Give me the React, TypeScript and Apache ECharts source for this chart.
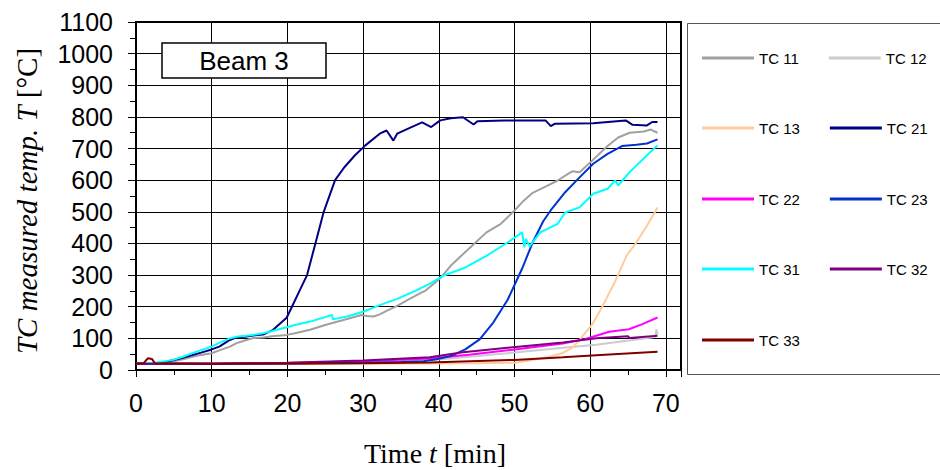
import React, { useEffect, useRef } from 'react';
import * as echarts from 'echarts';

const SANS = '"Liberation Sans", Arial, sans-serif';
const SERIF = '"Liberation Serif", "Times New Roman", serif';

const seriesNames = ['TC 11', 'TC 12', 'TC 13', 'TC 21', 'TC 22', 'TC 23', 'TC 31', 'TC 32', 'TC 33'];
const seriesColors = ['#A0A0A0', '#CCCCCC', '#FFCC99', '#000080', '#FF00FF', '#0033CC', '#00FFFF', '#800080', '#800000'];

const xTicks = [0, 10, 20, 30, 40, 50, 60, 70];
const yTicks = [0, 100, 200, 300, 400, 500, 600, 700, 800, 900, 1000, 1100];

const tc11 = [[0, 20], [3, 20], [4.5, 25], [6.2, 34], [8, 45], [10, 53], [11, 62], [12.4, 74], [13.3, 85], [14.6, 95], [15.5, 101], [16.8, 103], [18, 107], [19.9, 111], [21, 116], [23, 127], [25.1, 143], [27.4, 158], [29.8, 174], [30.5, 171], [31.4, 169], [32.2, 176], [33.1, 187], [34.5, 203], [35.9, 222], [37.2, 238], [38.3, 252], [40.2, 290], [41.6, 330], [43.9, 382], [46.3, 435], [48.2, 462], [50, 504], [51, 530], [52.4, 560], [54.3, 582], [55.7, 599], [57.6, 628], [58.6, 625], [60.4, 665], [62.3, 708], [63.7, 735], [65.2, 750], [67.1, 754], [68, 760], [68.9, 750]];
const tc12 = [[0, 20], [10, 20], [20, 21], [30, 24], [40, 33], [50, 55], [56.4, 70], [60.8, 80], [65.1, 93], [68.6, 104], [68.75, 128], [68.9, 112]];
const tc13 = [[0, 20], [30, 20], [45, 21], [50, 23], [52, 30], [54.2, 40], [56.4, 54], [57.6, 70], [58.6, 95], [60.3, 145], [61.6, 200], [63.4, 285], [64.8, 361], [66.1, 403], [67.5, 456], [68.9, 514]];
const tc21 = [[0, 22], [2, 22], [3, 21], [3.9, 25], [6.2, 39], [8.6, 55], [10, 65], [11, 74], [12.4, 95], [13.3, 103], [14.6, 106], [15.7, 110], [16.8, 112], [18, 125], [19.9, 165], [20.6, 200], [21.6, 250], [22.6, 300], [23.7, 400], [24.8, 500], [26.3, 600], [27.5, 640], [28.9, 678], [30.3, 710], [32.2, 747], [33.1, 757], [34.0, 725], [34.5, 747], [36.9, 773], [37.8, 783], [39, 768], [40.2, 789], [41.6, 796], [43.2, 799], [44.6, 776], [45.1, 786], [48.7, 789], [54.1, 789], [54.8, 771], [55.3, 778], [60.4, 780], [64.7, 789], [65.6, 775], [67.5, 773], [68.2, 784], [68.9, 784]];
const tc22 = [[0, 20], [10, 20], [20, 22], [30, 28], [38.8, 36], [44, 48], [49.8, 64], [56.4, 84], [59.4, 98], [62.5, 121], [65.1, 129], [66.9, 145], [68.9, 166]];
const tc23 = [[0, 20], [10, 20], [20, 21], [30, 23], [35, 25], [38, 28], [39.7, 34], [41.6, 44], [43.5, 65], [45.4, 97], [47.2, 150], [49.1, 222], [51, 320], [52.4, 403], [53.8, 470], [54.8, 505], [56.7, 562], [58.6, 609], [60.4, 652], [62.3, 683], [64.2, 708], [66.1, 712], [67.5, 716], [68.9, 729]];
const tc31 = [[0, 22], [2.5, 23], [4.9, 32], [6.2, 42], [8, 58], [10, 74], [11.2, 88], [12.4, 100], [13.5, 106], [14.6, 108], [16.8, 116], [18, 123], [19.9, 135], [21, 142], [23, 153], [25.9, 174], [26, 160], [28, 170], [30, 184], [32.2, 205], [34.5, 225], [36.9, 250], [38.9, 274], [40.6, 298], [43.5, 324], [46.3, 361], [49.1, 403], [51, 435], [51.3, 388], [51.5, 414], [52, 391], [53.4, 435], [55.7, 462], [56.7, 498], [58.6, 514], [60.4, 557], [62.3, 573], [63.3, 599], [63.7, 583], [65.2, 625], [66.1, 646], [67.5, 679], [68.9, 710]];
const tc32 = [[0, 20], [10, 20], [20, 23], [30, 30], [38.8, 40], [43.2, 56], [49.8, 72], [56.4, 87], [60.8, 100], [65, 107], [65.2, 101], [68.9, 108]];
const tc33 = [[0, 21], [1, 21], [1.3, 30], [1.6, 37], [2.1, 35], [2.5, 21], [10, 20], [20, 20], [30, 21], [38.8, 24], [50, 32], [56.4, 40], [60.8, 47], [68.9, 58]];

const seriesData = [tc11, tc12, tc13, tc21, tc22, tc23, tc31, tc32, tc33];

const legendRows = [['TC 11', 'TC 12'], ['TC 13', 'TC 21'], ['TC 22', 'TC 23'], ['TC 31', 'TC 32'], ['TC 33']];
const legendRowY = [58, 128, 199, 269, 340];

export default function App() {
  const ref = useRef<HTMLDivElement>(null);
  useEffect(() => {
    if (!ref.current) return;
    const chart = echarts.init(ref.current, undefined, { renderer: 'svg' });
    const option = {
      animation: false,
      backgroundColor: '#ffffff',
      grid: { left: 136, top: 22, width: 545, height: 348, show: true, borderColor: '#000', borderWidth: 2, backgroundColor: 'transparent' },
      xAxis: {
        type: 'value',
        min: 0,
        max: 72,
        interval: 10,
        axisLine: { show: true, onZero: false, lineStyle: { color: '#000', width: 2 } },
        axisTick: { show: true, inside: false, length: 7, lineStyle: { color: '#000', width: 1 } },
        minorTick: { show: true, splitNumber: 2, length: 5, lineStyle: { color: '#000', width: 1 } },
        axisLabel: {
          margin: 20,
          fontSize: 25,
          fontFamily: SANS,
          color: '#000',
          formatter: (v: number) => (xTicks.indexOf(v) >= 0 ? String(v) : ''),
        },
        splitLine: { show: true, lineStyle: { color: '#000', width: 1 } },
      },
      yAxis: {
        type: 'value',
        min: 0,
        max: 1100,
        interval: 100,
        axisLine: { show: true, onZero: false, lineStyle: { color: '#000', width: 2 } },
        axisTick: { show: true, inside: false, length: 8, lineStyle: { color: '#000', width: 1 } },
        minorTick: { show: true, splitNumber: 2, length: 6, lineStyle: { color: '#000', width: 1 } },
        axisLabel: {
          margin: 23,
          fontSize: 25,
          fontFamily: SANS,
          color: '#000',
          formatter: (v: number) => (yTicks.indexOf(v) >= 0 ? String(v) : ''),
        },
        splitLine: { show: true, lineStyle: { color: '#000', width: 1 } },
      },
      legend: legendRows.map((row, i) => ({
        data: row,
        orient: 'horizontal',
        left: 702,
        top: legendRowY[i] - 8,
        padding: 0,
        itemWidth: 52,
        itemHeight: 3,
        itemGap: 30,
        icon: 'rect',
        selectedMode: false,
        z: 20,
        textStyle: { fontSize: 15, fontFamily: SANS, color: '#000', lineHeight: 16 },
      })),
      graphic: [
        {
          type: 'rect',
          z: 1,
          shape: { x: 687.5, y: 23.5, width: 300, height: 351 },
          style: { fill: '#fff', stroke: '#555', lineWidth: 1 },
        },
        {
          type: 'rect',
          z: 100,
          shape: { x: 162, y: 43, width: 164, height: 35 },
          style: { fill: '#fff', stroke: '#000', lineWidth: 1.5 },
        },
        {
          type: 'text',
          z: 101,
          x: 244,
          y: 61,
          style: { text: 'Beam 3', font: '26px ' + SANS, fill: '#000', align: 'center', verticalAlign: 'middle' },
        },
        {
          type: 'text',
          z: 101,
          x: 435,
          y: 453,
          style: {
            text: '{n|Time }{i|t}{n| [min]}',
            align: 'center',
            verticalAlign: 'middle',
            fill: '#000',
            rich: {
              n: { fontSize: 28, fontFamily: SERIF, fill: '#000' },
              i: { fontSize: 28, fontFamily: SERIF, fontStyle: 'italic', fill: '#000' },
            },
          },
        },
        {
          type: 'text',
          z: 101,
          x: 27,
          y: 201,
          rotation: Math.PI / 2,
          style: {
            text: '{i|TC measured temp. T}{n| [°C]}',
            align: 'center',
            verticalAlign: 'middle',
            fill: '#000',
            rich: {
              n: { fontSize: 29, fontFamily: SERIF, fill: '#000' },
              i: { fontSize: 29, fontFamily: SERIF, fontStyle: 'italic', fill: '#000' },
            },
          },
        },
      ],
      series: seriesNames.map((name, i) => ({
        name,
        type: 'line',
        data: seriesData[i],
        showSymbol: false,
        symbol: 'none',
        color: seriesColors[i],
        lineStyle: { color: seriesColors[i], width: 2 },
        emphasis: { disabled: true },
        z: 2 + i * 0.01,
      })),
    };
    chart.setOption(option as any);
    return () => chart.dispose();
  }, []);
  return <div ref={ref} style={{ position: 'fixed', left: 0, top: 0, width: 940, height: 470 }} />;
}
